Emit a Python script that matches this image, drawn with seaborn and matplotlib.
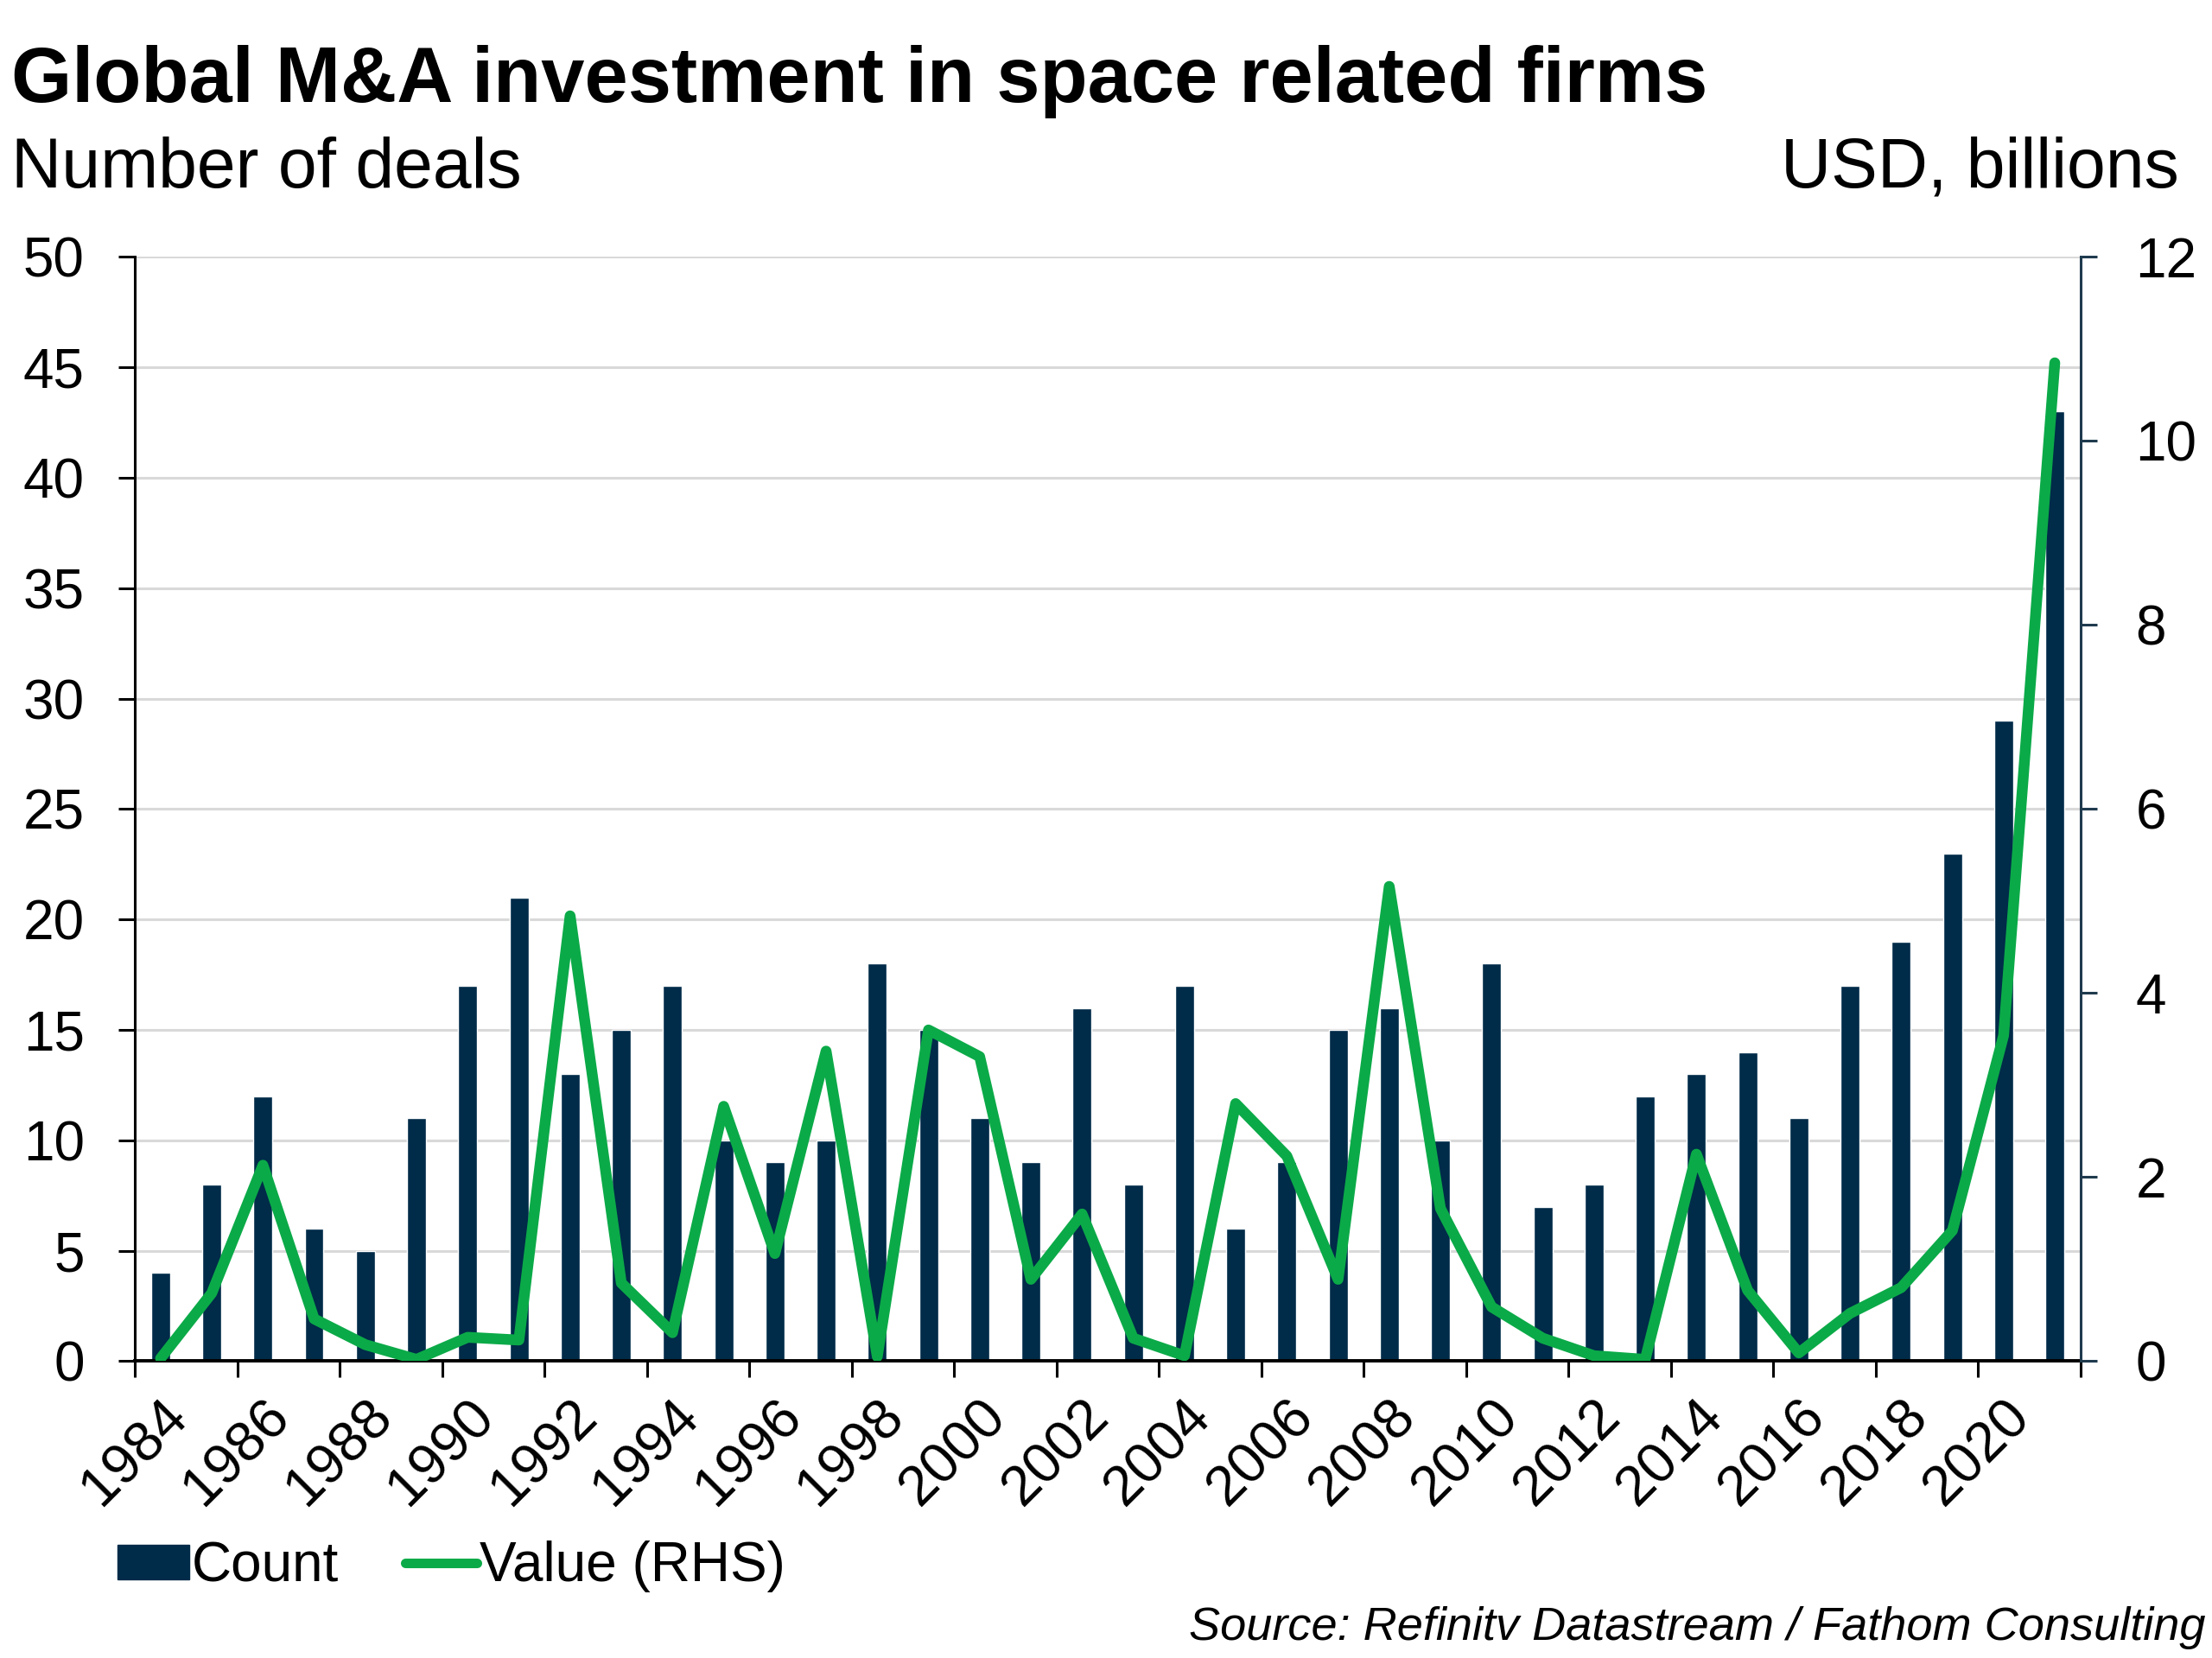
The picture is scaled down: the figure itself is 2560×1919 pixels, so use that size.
import matplotlib
matplotlib.use('Agg')
import numpy as np
import pandas as pd
import matplotlib.pyplot as plt
import seaborn as sns
from matplotlib.patches import Patch
from matplotlib.lines import Line2D

# datos
anios = list(range(1984, 2022))
conteo = [4, 8, 12, 6, 5, 11, 17, 21, 13, 15, 17, 10, 9, 10, 18, 15, 11, 9, 16, 8,
          17, 6, 9, 15, 16, 10, 18, 7, 8, 12, 13, 14, 11, 17, 19, 23, 29, 43]
valor = [0.03, 0.74, 2.13, 0.46, 0.18, 0.02, 0.26, 0.23, 4.84, 0.85, 0.31, 2.77, 1.17,
         3.37, 0.05, 3.60, 3.31, 0.89, 1.60, 0.25, 0.06, 2.80, 2.23, 0.89, 5.16, 1.66,
         0.59, 0.25, 0.06, 0.02, 2.25, 0.77, 0.09, 0.52, 0.80, 1.42, 3.54, 10.85]
etiquetas_anio = [str(a) for a in anios[::2]]

NAVY = '#002B49'
VERDE = '#0BAA48'

df = pd.DataFrame({'anio': [str(a) for a in anios], 'conteo': conteo, 'valor': valor})
df['pos'] = np.arange(len(df))

sns.set_theme(style="white")
plt.rcParams['font.family'] = ['Liberation Sans', 'DejaVu Sans']
plt.rcParams.update({'text.color': 'black', 'xtick.color': 'black',
                     'ytick.color': 'black', 'axes.labelcolor': 'black'})

fig = plt.figure(figsize=(25.6, 19.19), dpi=100)
ax = fig.add_axes([0.061, 0.179, 0.8795, 0.666])

sns.barplot(data=df, x='anio', y='conteo', color=NAVY, width=0.37, saturation=1, ax=ax)
ax.set_xlim(-0.5, len(df) - 0.5)
ax.set_ylim(0, 50)
ax.set_yticks(np.arange(0, 51, 5))
ax.yaxis.grid(True, color='#D9D9D9', linewidth=2.2)
ax.set_axisbelow(True)

ax2 = ax.twinx()
sns.lineplot(data=df, x='pos', y='valor', color=VERDE, linewidth=9, ax=ax2)
ax2.set_ylim(0, 12)
ax2.set_yticks(np.arange(0, 13, 2))
ax2.set_xlim(-0.5, len(df) - 0.5)

for a in (ax, ax2):
    a.set_xlabel('')
    a.set_ylabel('')
    a.spines['top'].set_visible(False)

ax.spines['right'].set_visible(False)
ax2.spines['left'].set_visible(False)
ax2.spines['bottom'].set_visible(False)
ax.spines['left'].set_color('black')
ax.spines['left'].set_linewidth(2.2)
ax.spines['bottom'].set_color('black')
ax.spines['bottom'].set_linewidth(2.8)
ax2.spines['right'].set_color('#1F3A4D')
ax2.spines['right'].set_linewidth(2.2)

ax.tick_params(axis='y', which='major', direction='out', length=14, width=2.2,
               color='black', labelcolor='black', labelsize=46, pad=28, left=True)
ax2.tick_params(axis='y', which='major', direction='out', length=14, width=2.2,
                color='#1F3A4D', labelcolor='black', labelsize=46, pad=32, right=True)

# etiquetas de anio centradas en la barra, marcas en los limites de categoria
ax.set_xticks(df['pos'].values[::2])
ax.set_xticklabels(etiquetas_anio, rotation=45, ha='right', rotation_mode='anchor')
ax.set_xticks(np.arange(-0.5, len(df), 2), minor=True)
ax.tick_params(axis='x', which='major', length=0, labelsize=47, labelcolor='black', pad=24)
ax.tick_params(axis='x', which='minor', direction='out', length=14, width=2.2,
               color='black', bottom=True)

fig.text(0.005, 0.951, 'Global M&A investment in space related firms', fontsize=65,
         fontweight='bold', ha='left', va='center')
fig.text(0.005, 0.898, 'Number of deals', fontsize=58, ha='left', va='center')
fig.text(0.985, 0.898, 'USD, billions', fontsize=58, ha='right', va='center')

handles = [Patch(facecolor=NAVY, edgecolor=NAVY),
           Line2D([0], [0], color=VERDE, linewidth=8)]
fig.legend(handles, ['Count', 'Value (RHS)'], loc='center left',
           bbox_to_anchor=(0.043, 0.055), frameon=False, fontsize=46,
           ncol=2, handlelength=1.3, handleheight=0.6, handletextpad=0.05,
           columnspacing=1.2, borderaxespad=0)

fig.text(0.997, 0.018, 'Source: Refinitv Datastream / Fathom Consulting', fontsize=39,
         style='italic', ha='right', va='center')

fig.savefig('out.png', dpi=100)
